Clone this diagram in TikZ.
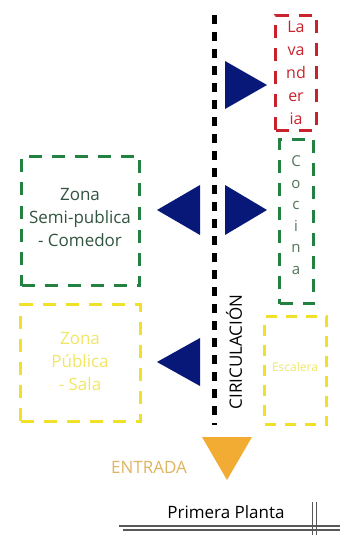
\documentclass[tikz,border=0pt]{standalone}
\usepackage{fontspec}
\setmainfont{Open Sans}
\definecolor{navyfill}{RGB}{8, 24, 120}
\definecolor{zonagreen}{RGB}{35, 130, 65}
\definecolor{zonagreentext}{RGB}{50, 85, 65}
\definecolor{cocinatext}{RGB}{80, 115, 90}
\definecolor{zonayellow}{RGB}{240, 225, 40}
\definecolor{zonayellowtext}{RGB}{240, 230, 100}
\definecolor{lavred}{RGB}{200, 35, 45}
\definecolor{entorange}{RGB}{242, 172, 52}
\definecolor{enttext}{RGB}{222, 180, 95}
\usetikzlibrary{positioning}

\begin{document}
\begin{tikzpicture}[x=1pt, y=-1pt,
                    zona/.style={draw, line width=3pt, dash pattern=on 13pt off 10pt, inner sep=0pt},
                    flecha/.style={fill=navyfill}]
                    \useasboundingbox (0,0) rectangle (361,537);
                    % zonas
                    \node[zona, lavred, minimum width=41pt, minimum height=115pt] (lavanderia) at (296,73) {};
                    \node[zona, zonagreen, minimum width=34pt, minimum height=164pt] (cocina) at (296.5,221.5) {};
                    \node[zona, zonagreen, minimum width=118pt, minimum height=129pt] (comedor) at (80.5,221) {};
                    \node[zona, zonayellow, minimum width=120pt, minimum height=117pt] (sala) at (80.5,363) {};
                    \node[zona, zonayellow, line width=2.5pt, dash pattern=on 11pt off 9pt, minimum width=62pt, minimum height=108pt] (escalera) at (295.5,370.5) {};
                    \node[font=\fontsize{16}{23}\selectfont, text=lavred, align=center] (lavtext) at (lavanderia.center) {La\\va\\nd\\er\\ia};
                    \node[font=\fontsize{15}{21.5}\selectfont, text=cocinatext, align=center] (cocinatext) at (296,215) {C\\o\\c\\i\\n\\a};
                    \node[font=\fontsize{17}{23}\selectfont, text=zonagreentext, align=center] (comedortext) at (80,218) {Zona\\Semi-publica\\- Comedor};
                    \node[font=\fontsize{17}{23}\selectfont, text=zonayellowtext, align=center] (salatext) at (80,362) {Zona\\Pública\\- Sala};
                    \node[font=\fontsize{12}{14}\selectfont, text=zonayellowtext] (escaleratext) at (295,367) {Escalera};
                    % circulacion
                    \coordinate (circtop) at (214.5,15);
                    \coordinate (circbot) at (214.5,425);
                    \draw[line width=5pt, dash pattern=on 9pt off 8pt] (circtop) -- (circbot);
                    \node[rotate=90, font=\fontsize{17}{19}\selectfont] (circulacion) at (234,352) {CIRICULACIÓN};
                    \fill[flecha] (225,61) -- (267,85) -- (225,109) -- cycle;
                    \fill[flecha] (225,185) -- (267,210) -- (225,235) -- cycle;
                    \fill[flecha] (200,185) -- (157,210) -- (200,235) -- cycle;
                    \fill[flecha] (200,338) -- (157,362) -- (200,386) -- cycle;
                    % entrada
                    \fill[entorange] (202,437) -- (252,437) -- (227,480) -- cycle;
                    \node[font=\fontsize{17}{19}\selectfont, text=enttext] (entrada) at (149,467) {ENTRADA};
                    % planta
                    \node[font=\fontsize{17}{19}\selectfont] (planta) at (226,512) {Primera Planta};
                    \draw[line width=1.3pt, black!65] (119,526) -- (340,526);
                    \draw[line width=1.3pt, black!65] (123,530) -- (340,530);
                    \draw[line width=1pt, black!65] (312,502) -- (312,535);
                    \draw[line width=1pt, black!65] (316,502) -- (316,535);
                \end{tikzpicture}
\end{document}
